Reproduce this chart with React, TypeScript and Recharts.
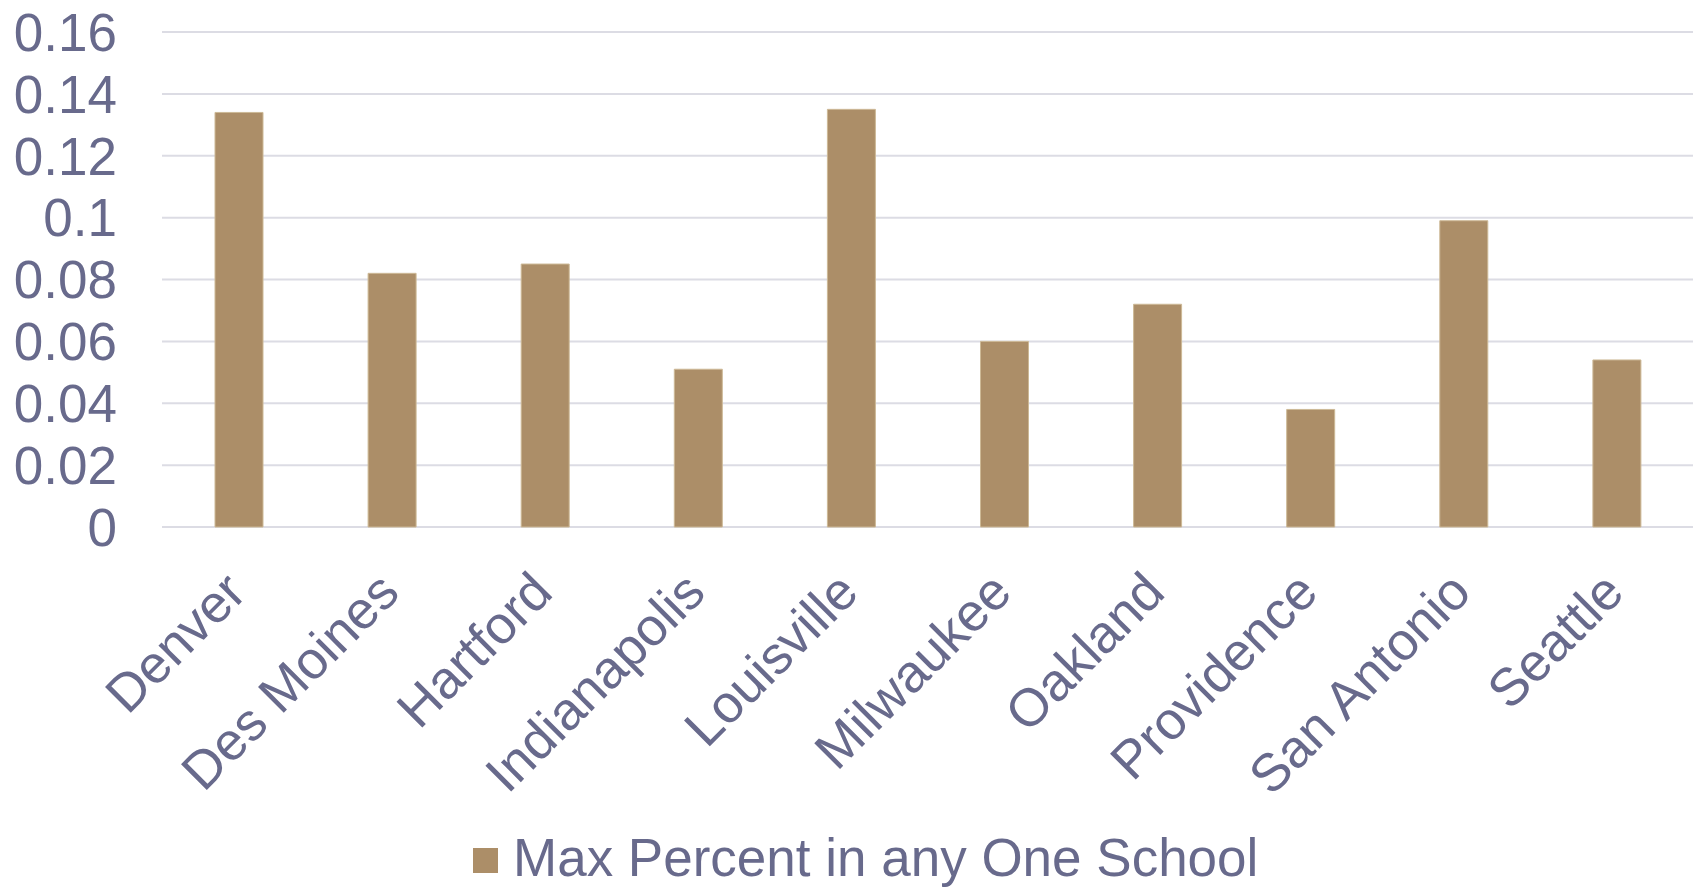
import React from 'react';
import {
    BarChart,
    Bar,
    XAxis,
    YAxis,
    CartesianGrid,
    Legend,
} from 'recharts';

const cities = [
    'Denver',
    'Des Moines',
    'Hartford',
    'Indianapolis',
    'Louisville',
    'Milwaukee',
    'Oakland',
    'Providence',
    'San Antonio',
    'Seattle',
];
const maxPercent = [0.134, 0.082, 0.085, 0.051, 0.135, 0.06, 0.072, 0.038, 0.099, 0.054];
const yTicks = [0, 0.02, 0.04, 0.06, 0.08, 0.1, 0.12, 0.14, 0.16];
const seriesName = 'Max Percent in any One School';

const TEXT = '#686a8c';
const BAR = '#ac8e68';
const GRID = '#dcdce4';
const FONT = '"Liberation Sans", Arial, sans-serif';
const FONT_SIZE = 53;

const data = cities.map((city, i) => ({ city, value: maxPercent[i] }));

// rotated category label, anchored at its end just below the bar
const CityTick = ({ x, y, payload }: any) => {
    const ax = x + 10;
    const ay = y + 68;
    return (
        <text
            x={ax}
            y={ay}
            transform={`rotate(-45, ${ax}, ${ay})`}
            textAnchor="end"
            fill={TEXT}
            fontSize={FONT_SIZE}
            fontFamily={FONT}
        >
            {payload.value}
        </text>
    );
};

const LegendRow = ({ payload }: any) => (
    <svg width={1698} height={70} style={{ display: 'block' }}>
        {(payload || []).map((item: any) => (
            <g key={item.value}>
                <rect x={473} y={31} width={25} height={25} fill={BAR} />
                <text x={513} y={59} fill={TEXT} fontSize={FONT_SIZE} fontFamily={FONT}>
                    {item.value}
                </text>
            </g>
        ))}
    </svg>
);

export default function App() {
    return (
        <div style={{ position: 'absolute', left: 0, top: 0, background: '#fff' }}>
            <BarChart
                width={1698}
                height={887}
                data={data}
                margin={{ top: 32, right: 5, bottom: 0, left: 0 }}
                barSize={48}
            >
                <CartesianGrid vertical={false} stroke={GRID} strokeWidth={2} />
                <XAxis
                    dataKey="city"
                    height={290}
                    axisLine={false}
                    tickLine={false}
                    tickSize={0}
                    tickMargin={0}
                    interval={0}
                    tick={<CityTick />}
                />
                <YAxis
                    width={162}
                    domain={[0, 0.16]}
                    ticks={yTicks}
                    interval={0}
                    axisLine={false}
                    tickLine={false}
                    tickSize={0}
                    tickMargin={45}
                    tick={{ fill: TEXT, fontSize: FONT_SIZE, fontFamily: FONT }}
                />
                <Legend
                    verticalAlign="bottom"
                    height={70}
                    wrapperStyle={{ left: 0, bottom: 0, width: 1698 }}
                    content={<LegendRow />}
                />
                <Bar
                    dataKey="value"
                    name={seriesName}
                    fill={BAR}
                    stroke="#cdb996"
                    strokeWidth={1}
                    isAnimationActive={false}
                />
            </BarChart>
        </div>
    );
}
